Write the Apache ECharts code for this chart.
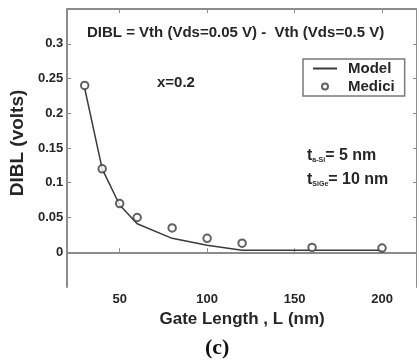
<!DOCTYPE html>
<html>
<head>
<meta charset="utf-8">
<script src="https://cdn.jsdelivr.net/npm/echarts@6/dist/echarts.min.js"></script>
<style>
  html, body { margin: 0; padding: 0; background: #fff; }
  #chart { width: 417px; height: 362px; }
</style>
</head>
<body>
<div id="chart"></div>
<script>
// gate length (nm)
const gateLength = [30, 40, 50, 60, 80, 100, 120, 160, 200];
// DIBL (V) - analytical model
const modelDibl = [0.236, 0.12, 0.068, 0.041, 0.02, 0.01, 0.003, 0.003, 0.003];
// DIBL (V) - Medici simulation
const mediciDibl = [0.24, 0.12, 0.07, 0.05, 0.035, 0.02, 0.013, 0.007, 0.006];
const xTicks = [50, 100, 150, 200];
const yTicks = [0, 0.05, 0.1, 0.15, 0.2, 0.25, 0.3];

const txt = '#262626';
const axisGray = '#8c8c8c';
const font = 'Liberation Sans';

const chart = echarts.init(document.getElementById('chart'), null, {renderer: 'canvas'});

const yFmt = v => (v < -0.01 || v > 0.34) ? '' : String(+v.toFixed(2));

chart.setOption({
    animation: false,
    backgroundColor: '#fff',
    textStyle: {fontFamily: font},
    grid: {left: 66, top: 9, width: 353, height: 278},
    title: [
        {
            text: 'DIBL = Vth (Vds=0.05 V) -  Vth (Vds=0.5 V)',
            left: 87, top: 25, padding: 0,
            textStyle: {fontSize: 15, fontWeight: 'bold', color: txt, fontFamily: font}
        },
        {
            text: 'x=0.2',
            left: 157, top: 75, padding: 0,
            textStyle: {fontSize: 15, fontWeight: 'bold', color: txt, fontFamily: font}
        },
        {
            text: '{t|t}{s|a-Si}{t|= 5 nm}\n{t|t}{s|SiGe}{t|= 10 nm}',
            left: 307, top: 144, padding: 0,
            textStyle: {
                fontFamily: font,
                rich: {
                    t: {fontSize: 16, fontWeight: 'bold', color: txt, lineHeight: 24, fontFamily: font},
                    s: {fontSize: 7, color: txt, padding: [8, 0, 0, 0], fontFamily: font}
                }
            }
        },
        {
            text: '(c)',
            left: 205, top: 337, padding: 0,
            textStyle: {fontSize: 22, fontWeight: 'bold', color: '#111', fontFamily: 'Liberation Serif'}
        }
    ],
    legend: {
        left: 303, top: 59,
        orient: 'vertical',
        padding: [2, 10, 2, 9],
        borderColor: '#7a7a7a',
        borderWidth: 1.5,
        borderRadius: 0,
        itemWidth: 24,
        itemHeight: 6,
        itemGap: 3,
        textStyle: {fontSize: 15, fontWeight: 'bold', color: txt, fontFamily: font, padding: [0, 0, 0, 6]},
        data: [
            {name: 'Model', itemStyle: {opacity: 0}},
            {name: 'Medici'}
        ]
    },
    xAxis: [
        {
            type: 'value', min: 20, max: 220,
            name: 'Gate Length , L (nm)',
            nameLocation: 'middle', nameGap: 22,
            nameTextStyle: {fontSize: 17, fontWeight: 'bold', color: txt, fontFamily: font},
            splitLine: {show: false},
            axisLine: {lineStyle: {color: axisGray, width: 2}},
            axisTick: {inside: true, length: 4, customValues: xTicks, lineStyle: {color: axisGray}},
            axisLabel: {customValues: xTicks, margin: 6, fontSize: 13, fontWeight: 'bold', color: txt, fontFamily: font}
        },
        {
            type: 'value', min: 20, max: 220, position: 'top',
            splitLine: {show: false},
            axisLine: {onZero: false, lineStyle: {color: axisGray, width: 2}},
            axisTick: {inside: true, length: 4, customValues: xTicks, lineStyle: {color: axisGray}},
            axisLabel: {show: false}
        }
    ],
    yAxis: [
        {
            type: 'value', min: -0.05, max: 0.35, interval: 0.05,
            name: 'DIBL (volts)',
            nameLocation: 'middle', nameGap: 33,
            nameTextStyle: {fontSize: 19, fontWeight: 'bold', color: txt, fontFamily: font, padding: [0, 0, 0, 10]},
            splitLine: {show: false},
            axisLine: {show: true, onZero: false, lineStyle: {color: axisGray, width: 2}},
            axisTick: {inside: true, length: 4, customValues: yTicks, lineStyle: {color: axisGray}},
            axisLabel: {formatter: yFmt, margin: 4, fontSize: 13, fontWeight: 'bold', color: txt, fontFamily: font}
        },
        {
            type: 'value', min: -0.05, max: 0.35, interval: 0.05, position: 'right',
            splitLine: {show: false},
            axisLine: {show: true, onZero: false, lineStyle: {color: axisGray, width: 2}},
            axisTick: {inside: true, length: 4, customValues: yTicks, lineStyle: {color: axisGray}},
            axisLabel: {show: false}
        }
    ],
    series: [
        {
            name: 'Model',
            type: 'line',
            symbol: 'none',
            data: gateLength.map((x, i) => [x, modelDibl[i]]),
            lineStyle: {color: '#3a3a3a', width: 1.5},
            itemStyle: {color: '#3a3a3a'},
            z: 2
        },
        {
            name: 'Medici',
            type: 'scatter',
            symbol: 'emptyCircle',
            symbolSize: 7.5,
            data: gateLength.map((x, i) => [x, mediciDibl[i]]),
            itemStyle: {color: '#3a3a3a', borderWidth: 1.3},
            z: 3
        }
    ]
});
</script>
</body>
</html>
